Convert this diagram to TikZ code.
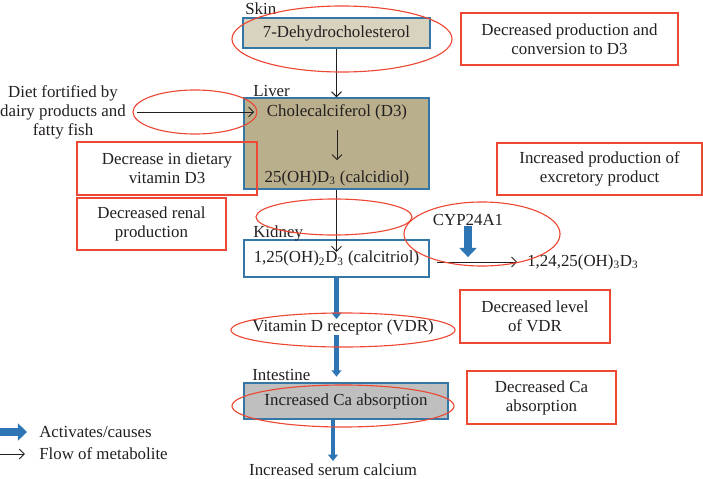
\documentclass[tikz,border=0pt]{standalone}
\usepackage{fontspec}
\setmainfont{Liberation Serif}
\usepackage{tikz}
\usetikzlibrary{shapes.geometric, arrows.meta, positioning, calc}
\definecolor{organEdge}{RGB}{52,118,166}
\definecolor{skinFill}{RGB}{216,211,190}
\definecolor{liverFill}{RGB}{185,175,140}
\definecolor{gutFill}{RGB}{191,191,191}
\definecolor{effectRed}{RGB}{236,72,52}
\definecolor{causeBlue}{RGB}{46,117,182}
\definecolor{inkGray}{RGB}{35,31,32}

\begin{document}
\begin{tikzpicture}[
    x=0.025cm, y=-0.025cm,
    every node/.style={font=\fontsize{12}{13.5}\selectfont, text=inkGray},
    organ/.style={rectangle, draw=organEdge, line width=1pt, inner sep=0pt},
    effect/.style={rectangle, draw=effectRed, line width=1pt, align=center, inner sep=0pt},
    ring/.style={ellipse, draw=effectRed, line width=0.8pt, inner sep=0pt},
    tag/.style={anchor=base west, inner sep=0pt},
    label/.style={inner sep=0pt},
    flow/.style={-{Straight Barb[length=3.5pt, width=7pt]}, draw=inkGray, line width=0.7pt},
    cause/.style={-{Triangle[length=4.5pt, width=7pt]}, draw=causeBlue, line width=3.3pt},
    bigcause/.style={-{Triangle[length=6.5pt, width=12pt]}, draw=causeBlue, line width=5pt}
]
    \useasboundingbox (0,0) rectangle (703,479);

    % Organs
    \node[organ, fill=skinFill, minimum width=4.675cm, minimum height=0.75cm] (skin) at (336.5,33) {7-Dehydrocholesterol};
    \node[tag] (skinTag) at (245,15) {Skin};
    \node[organ, fill=liverFill, minimum width=4.625cm, minimum height=2.275cm] (liver) at (336.5,143.5) {};
    \node[tag] (liverTag) at (253,96) {Liver};
    \node[label] (chole) at (337,112) {Cholecalciferol (D3)};
    \node[label] (calcidiol) at (337,178) {25(OH)D\textsubscript{3} (calcidiol)};
    \node[organ, fill=white, minimum width=4.625cm, minimum height=0.925cm] (kidney) at (336.5,258.5) {1,25(OH)\textsubscript{2}D\textsubscript{3} (calcitriol)};
    \node[tag] (kidneyTag) at (253,237) {Kidney};
    \node[label] (vdr) at (343,327) {Vitamin D receptor (VDR)};
    \node[organ, fill=gutFill, minimum width=5.1cm, minimum height=0.9cm] (gut) at (346,401) {Increased Ca absorption};
    \node[tag] (gutTag) at (252,380) {Intestine};
    \node[label] (serum) at (333,470) {Increased serum calcium};

    % Side inputs and products
    \node[label, align=center] (diet) at (63,112) {Diet fortified by\\dairy products and\\fatty fish};
    \node[label] (cyp) at (468,220) {CYP24A1};
    \node[label, anchor=west] (product) at (527,262) {1,24,25(OH)\textsubscript{3}D\textsubscript{3}};

    % Effects
    \node[effect, minimum width=5.425cm, minimum height=1.3cm] (lessSkin) at (569.5,39) {Decreased production and\\conversion to D3};
    \node[effect, minimum width=4.5cm, minimum height=1.325cm] (lessDiet) at (167,168.5) {Decrease in dietary\\vitamin D3};
    \node[effect, minimum width=3.725cm, minimum height=1.3cm] (lessRenal) at (151.5,224) {Decreased renal\\production};
    \node[effect, minimum width=5.125cm, minimum height=1.3cm] (moreExcr) at (599.5,169) {Increased production of\\excretory product};
    \node[effect, minimum width=3.75cm, minimum height=1.325cm] (lessVdr) at (535,316.5) {Decreased level\\of VDR};
    \node[effect, minimum width=3.725cm, minimum height=1.325cm] (lessCa) at (541.5,397.5) {Decreased Ca\\absorption};

    % Legend
    \coordinate (legCauseStart) at (0,432);
    \coordinate (legFlowStart) at (0,454);
    \node[label, anchor=west] (legCause) at (39,432) {Activates/causes};
    \node[label, anchor=west] (legFlow) at (39,454) {Flow of metabolite};

    % Arrows
    \draw[flow] (skin) -- (liver);
    \draw[flow, shorten <=7.5pt, shorten >=-7.8pt] (diet.east) -- (liver.west |- diet.east);
    \draw[flow, shorten <=7pt, shorten >=7pt] (chole) -- (calcidiol);
    \draw[flow, shorten >=-9pt] (liver) -- (kidney);
    \draw[flow, shorten <=5pt, shorten >=7pt] (kidney.east |- product.west) -- (product.west);
    \draw[bigcause, shorten >=1pt] (cyp) -- (cyp |- kidney.east);
    \draw[cause] (kidney.south) -- (kidney.south |- vdr.north);
    \draw[cause, shorten >=4pt] (vdr.south -| kidney.south) -- (gut.north -| kidney.south);
    \draw[cause, shorten >=2pt] (gut.south -| serum.north) -- (serum.north);
    \draw[bigcause, shorten >=8.5pt] (legCauseStart) -- (legCause.west);
    \draw[flow, shorten >=10pt] (legFlowStart) -- (legFlow.west);

    % Highlight rings
    \node[ring, minimum width=5.5cm, minimum height=1.65cm] (ringSkin) at (342,39) {};
    \node[ring, minimum width=3.1cm, minimum height=1.1cm] (ringDiet) at (195,112) {};
    \node[ring, minimum width=3.9cm, minimum height=0.9cm] (ringRenal) at (334,217) {};
    \node[ring, minimum width=3.9cm, minimum height=1.6cm] (ringCyp) at (482,234) {};
    \node[ring, minimum width=5.6cm, minimum height=0.85cm] (ringVdr) at (343,330) {};
    \node[ring, minimum width=5.55cm, minimum height=1.05cm] (ringGut) at (343,406) {};

\end{tikzpicture}
\end{document}
